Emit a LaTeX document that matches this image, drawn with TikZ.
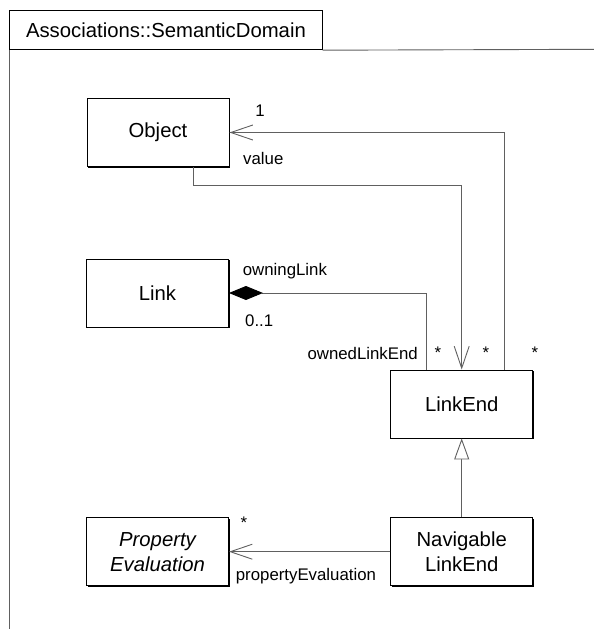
\documentclass[tikz,border=0pt]{standalone}
\usepackage{fontspec}
\setmainfont{Liberation Sans}
\usetikzlibrary{arrows.meta,shadows}
\definecolor{linegray}{RGB}{96,96,96}

\begin{document}
\begin{tikzpicture}[x=1pt, y=-1pt, line join=miter,
	umlclass/.style={draw=black, line width=0.9pt, fill=white, minimum width=142pt, minimum height=68pt,
		inner sep=0pt, align=center, font=\fontsize{20.3}{25}\selectfont,
		drop shadow={shadow xshift=1pt, shadow yshift=-1pt, opacity=1, fill=black}},
	conn/.style={draw=linegray, line width=0.9pt},
	barb/.style={-{Straight Barb[length=22pt, width=15pt]}},
	lbl/.style={inner sep=0pt, font=\fontsize{16.8}{20}\selectfont}]
	\useasboundingbox (0,0) rectangle (594,629);
	% frame
	\node[draw=black, line width=0.9pt, minimum width=312.4pt, minimum height=39.3pt, inner sep=0pt,
		anchor=north west, font=\fontsize{20.3}{24}\selectfont] (tab) at (9.3,10) {Associations::SemanticDomain};
	\coordinate (frameright) at (594,49.3);
	\coordinate (framebottom) at (9.3,629);
	\draw[conn] (tab.south east) -- (frameright);
	\draw[conn] (tab.south west) -- (framebottom);
	% classes
	\node[umlclass] (object) at (158,132.5) {Object};
	\node[umlclass] (link) at (157.5,293) {Link};
	\node[umlclass] (linkend) at (461.7,404) {LinkEnd};
	\node[umlclass] (navlinkend) at (461.7,551.7) {Navigable\\LinkEnd};
	\node[umlclass, font=\fontsize{20.3}{25}\selectfont\itshape] (propeval) at (157.5,551.7) {Property\\Evaluation};
	% associations
	\draw[conn, barb] ([xshift=35pt]object.south) -- ++(0,18.5) -| (linkend.north);
	\draw[conn, barb] ([xshift=42.3pt]linkend.north) |- (object.east);
	\draw[conn, {Diamond[length=34pt, width=14pt, color=black]}-] (link.east) -| ([xshift=-35pt]linkend.north);
	\draw[conn, -{Triangle[open, length=21pt, width=15pt, fill=white]}] (navlinkend) -- (linkend);
	\draw[conn, barb] (navlinkend) -- (propeval);
	% role names and multiplicities
	\node[lbl] (mone) at (260,111) {1};
	\node[lbl, anchor=west] (rvalue) at (243,158) {value};
	\node[lbl, anchor=west] (rowning) at (242.7,271) {owningLink};
	\node[lbl, anchor=west] (mzeroone) at (245,321) {0..1};
	\node[lbl, anchor=east] (rowned) at (418,353.3) {ownedLinkEnd};
	\node[lbl] (mowned) at (438,353) {*};
	\node[lbl] (mvalue) at (486,353) {*};
	\node[lbl] (mlinkend) at (535,353) {*};
	\node[lbl] (mpropeval) at (244,522.7) {*};
	\node[lbl, anchor=west] (rpropeval) at (235.7,575.7) {propertyEvaluation};
\end{tikzpicture}
\end{document}
